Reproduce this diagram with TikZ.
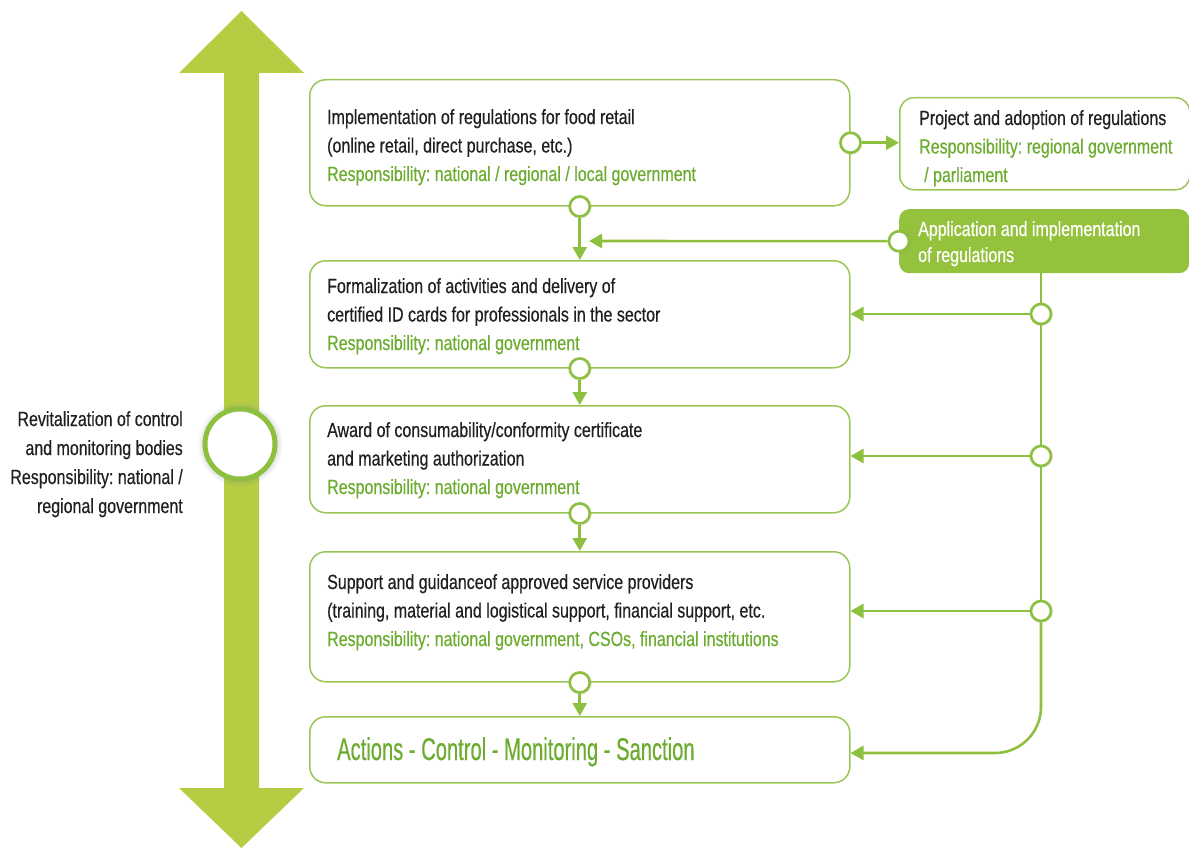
\documentclass[tikz,border=0pt]{standalone}
\usepackage{fontspec}
\setmainfont{Liberation Sans}[FakeStretch=0.78,FakeBold=0.4]
\newfontfamily\bigfont{Liberation Sans}[FakeStretch=0.64,FakeBold=0.4]
\usetikzlibrary{arrows.meta,shadows}
\frenchspacing

\definecolor{arrowgreen}{HTML}{B4CD43}
\definecolor{linegreen}{HTML}{8DC03F}
\definecolor{boxgreen}{HTML}{9AC656}
\definecolor{textgreen}{HTML}{6CAC2F}
\definecolor{textdark}{HTML}{231F20}
\definecolor{fillgreen}{HTML}{95C23D}

\tikzset{
  stepbox/.style={draw=boxgreen, line width=1.5pt, rounded corners=16pt, fill=white,
    anchor=north west, minimum width=540pt, inner sep=0pt},
  boxtext/.style={anchor=base west, align=left, inner sep=0pt, text=textdark,
    font=\fontsize{20.5}{28.5}\selectfont},
  softshadow/.style={circular drop shadow={shadow xshift=0pt, shadow yshift=0pt,
    shadow scale=1.25, opacity=0.22}},
  joint/.style={circle, draw=linegreen, line width=2.6pt, fill=white,
    minimum size=20pt, inner sep=0pt, softshadow},
  link/.style={draw=linegreen, line width=2.6pt},
  flow/.style={link, -{Triangle[length=13pt,width=14pt]}},
}

\begin{document}
\begin{tikzpicture}[x=1pt,y=-1pt]
\useasboundingbox (0,0) rectangle (1189,848);

% two-headed vertical arrow
\fill[arrowgreen] (224,73) -- (179,73) -- (241.5,11) -- (304,73) -- (259,73)
  -- (259,788) -- (304,788) -- (241.5,848) -- (179,788) -- (224,788) -- cycle;
\node[circle, draw=linegreen, line width=5pt, fill=white, minimum size=70pt,
  inner sep=0pt, circular drop shadow={shadow xshift=0pt, shadow yshift=0pt,
  shadow scale=1.22, opacity=0.25}] (hub) at (240,444) {};
% the base anchor of a multi-line node sits on its last line
\node[anchor=base east, align=right, inner sep=0pt, text=textdark,
  font=\fontsize{20.5}{29}\selectfont] (hubtext) at (183,513)
  {Revitalization of control\\and monitoring bodies\\Responsibility: national /\\regional government};

% main chain of steps
\node[stepbox, minimum height=126pt] (b1) at (309,79) {};
\node[stepbox, minimum height=107pt] (b2) at (309,260) {};
\node[stepbox, minimum height=107pt] (b3) at (309,405) {};
\node[stepbox, minimum height=130pt] (b4) at (309,551) {};
\node[stepbox, minimum height=66pt] (b5) at (309,716) {};

\node[boxtext] (t1) at (327,181) {Implementation of regulations for food retail\\
  (online retail, direct purchase, etc.)\\
  \textcolor{textgreen}{Responsibility: national / regional / local government}};
\node[boxtext] (t2) at (327,350) {Formalization of activities and delivery of\\
  certified ID cards for professionals in the sector\\
  \textcolor{textgreen}{Responsibility: national government}};
\node[boxtext] (t3) at (327,494) {Award of consumability/conformity certificate\\
  and marketing authorization\\
  \textcolor{textgreen}{Responsibility: national government}};
\node[boxtext] (t4) at (327,646) {Support and guidanceof approved service providers\\
  (training, material and logistical support, financial support, etc.\\
  \textcolor{textgreen}{Responsibility: national government, CSOs, financial institutions}};
\node[anchor=base west, inner sep=0pt, text=textgreen,
  font=\bigfont\fontsize{31.5}{36}\selectfont] (t5) at (337,760)
  {Actions - Control - Monitoring - Sanction};

% side boxes
\node[draw=boxgreen, line width=1.5pt, rounded corners=14pt, fill=white, anchor=north west,
  minimum width=290pt, minimum height=92pt, inner sep=0pt] (proj) at (899,97) {};
\node[boxtext] (tproj) at (919,182) {Project and adoption of regulations\\
  \textcolor{textgreen}{Responsibility: regional government}\\
  \textcolor{textgreen}{\hspace{5pt}/ parliament}};
\node[fill=fillgreen, rounded corners=10pt, anchor=north west,
  minimum width=290pt, minimum height=64pt, inner sep=0pt] (app) at (899,209) {};
\node[boxtext, text=white, font=\fontsize{20.5}{26}\selectfont] (tapp) at (918,262)
  {Application and implementation\\of regulations};

% joints
\node[joint] (j1r) at (b1.east) {};
\node[joint] (j1b) at (b1.south) {};
\node[joint] (j2b) at (b2.south) {};
\node[joint] (j3b) at (b3.south) {};
\node[joint] (j4b) at (b4.south) {};
\node[joint] (ja) at (app.west) {};
\node[joint] (j2r) at (1041,314) {};
\node[joint] (j3r) at (1041,456) {};
\node[joint] (j4r) at (1041,611) {};
\coordinate (merge) at (589,241);

% connectors
\draw[flow] (j1r) -- (j1r -| proj.west);
\draw[flow] (j1b) -- (b2);
\draw[flow] (j2b) -- (b3);
\draw[flow] (j3b) -- (b4);
\draw[flow] (j4b) -- (b5);
\draw[flow] (ja) -- (merge);
\draw[link] (app.south -| j2r) -- (j2r);
\draw[link] (j2r) -- (j3r);
\draw[link] (j3r) -- (j4r);
\draw[flow] (j2r) -- (j2r -| b2.east);
\draw[flow] (j3r) -- (j3r -| b3.east);
\draw[flow] (j4r) -- (j4r -| b4.east);
\draw[flow, rounded corners=46pt] (j4r.south) -- (j4r |- 0,753) -- (b5.east |- 0,753);
\end{tikzpicture}
\end{document}
